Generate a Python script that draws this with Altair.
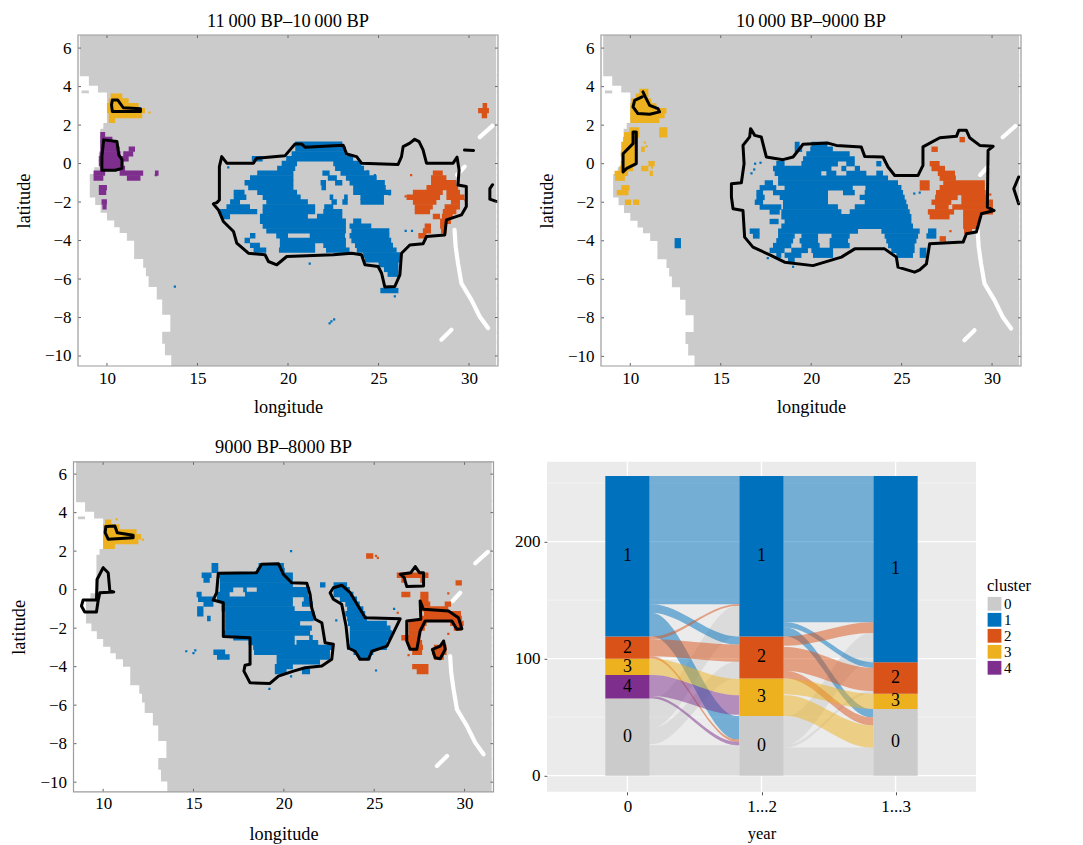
import altair as alt
import pandas as pd

FONT = "Liberation Serif"
COLORS = {"0": "#CBCBCB", "1": "#0072BD", "2": "#D95319", "3": "#EDB120", "4": "#7E2F8E"}
C_DOMAIN = list(COLORS)
C_RANGE = list(COLORS.values())

# ---- shared land mask: (lat top, lat bottom, coast longitude)
COAST = [(6.62,4.6,8.5),(4.6,4.1,9.0),(4.1,3.75,9.5),(3.75,2.05,10.0),(2.05,1.75,9.8),(1.75,0.5,9.63),
 (0.5,-0.25,9.55),(-0.25,-0.6,9.3),(-0.6,-1.7,9.05),(-1.7,-2.1,9.35),(-2.1,-2.5,9.65),(-2.5,-2.9,10.0),
 (-2.9,-3.25,10.4),(-3.25,-3.55,10.7),(-3.55,-3.95,11.1),(-3.95,-4.9,11.5),(-4.9,-5.35,12.0),(-5.35,-5.8,12.15),
 (-5.8,-6.35,12.3),(-6.35,-7.0,12.75),(-7.0,-7.8,13.05),(-7.8,-8.8,13.5),(-8.8,-9.3,13.05),(-9.3,-9.9,13.2),(-9.9,-10.46,13.55)]
EAST_EDGE = 31.5
ISLET = (3.8, 3.65, 8.6, 9.0)
LAKES = [
 [(29.2,-3.45),(29.26,-4.31),(29.39,-5.18),(29.58,-6.22),(30.13,-7.08),(30.59,-7.95),(31.05,-8.55)],
 [(30.59,1.37),(31.29,1.96)],
 [(29.34,-0.59),(29.76,-0.16)],
 [(28.47,-9.16),(29.03,-8.64)],
]

# ---- panel 1 raster runs: lat, lon1, lon2, lon1, lon2 ...
P1_BLUE = [(1.0,20.4,23.0),(0.75,20.4,23.2),(0.5,20.2,23.2),(0.25,18.0,18.6,19.9,23.6),(0,19.65,20.5,22.5,24.05),
 (-0.25,19.4,20.4,22.6,24.2),(-0.5,18.3,20.3,21.9,22.3,22.9,24.5),(-0.75,17.9,20.3,22.2,22.7,23.2,24.9),(-1,17.6,20.3,21.8,22.1,22.6,23,23.4,25.35),
 (-1.25,17.8,20.3,21.85,22.1,23.6,25.4),(-1.5,17,17.6,18.3,20.5,23.6,25.7),(-1.75,17,17.7,18.6,20.7,22.3,22.5,23.1,23.3,24,25.3),
 (-2,16.8,17.35,18.8,21.1,22.4,22.7,23,23.3,24,25.3),(-2.25,16.6,17.9,18.6,21.5,22,22.5),(-2.5,16.25,18.3,18.6,21.5,21.95,23),
 (-2.75,16.3,16.8,18.45,21.1,21.6,23),(-3,18.45,23.2,23.6,24.05),(-3.25,18.6,23.2,23.4,24.6),(-3.5,18.8,23.2,23.5,25.6),
 (-3.75,17.9,18.2,19.35,20,21.2,23.15,23.4,25.6),(-4,17.6,17.9,19.55,23.2,23.5,25.7),(-4.25,17.9,18.45,19.55,21.5,21.95,23.2,23.7,25.8),
 (-4.5,18.1,18.8,19.5,21.5,22.1,23.4,23.8,26),(-4.75,24.15,26.2),(-5,24.25,26.2),(-5.25,25,26.1),(-5.5,25.3,26.1),(-5.75,25.5,26.1),
 (-6.6,25.1,26.1)]
P1_ORANGE = [(2.75,30.5,31.1),(3,30.75,31.0),(2.5,30.7,31.0),(-0.5,28,28.55),(-0.75,27.9,28.75),(-1,27.9,29.3),(-1.25,27.65,29.4),
 (-1.5,26.9,28.55,28.75,29.5),(-1.75,26.55,28.4,28.75,29.75),(-2,26.9,28.2,29,29.5),(-2.25,27,28,28.65,29.5),
 (-2.5,27,27.85,28.55,29.3),(-2.75,28,28.4,28.5,29.1),(-3,28.4,29),(-3.25,27.55,27.9,28.4,28.75),(-3.5,27.45,27.9,28.45,28.75),(-3.75,27.2,27.65)]
P1_YELLOW = [(3.5,10.2,10.85),(3.25,10.1,11.2),(3,10,11.75),(2.75,10,12.1),(2.5,10.1,11.95),(2.25,10.1,10.45)]
P1_PURPLE = [(1.5,9.63,9.9),(1.25,9.63,10.3),(1,9.63,10.55),(0.75,9.63,10.7,11.2,11.55),(0.5,9.6,10.75,10.9,11.45),(0.25,9.55,11.2),
 (0,9.55,10.9),(-0.25,9.63,11),(-0.5,9.26,9.9,10.7,12,12.65,12.85),(-0.75,9.26,9.8,11.1,11.85),(-1.25,9.55,10),(-1.5,9.55,9.96),(-2,9.7,10),(-2.25,9.75,9.98)]
P1_OUTLINES = [
 [(10.3,3.3),(10.6,3.3),(10.9,2.9),(11.85,2.85),(11.85,2.7),(10.3,2.7),(10.25,3.05),(10.3,3.3)],
 [(9.82,1.23),(10.55,1.15),(10.65,0.45),(10.83,0.2),(10.83,-0.25),(10.46,-0.35),(9.72,-0.35),(9.72,0.37),(9.82,1.23)],
 [(15.88,-2.1),(16.07,-2.03),(16.21,-1.89),(16.21,-0.16),(16.34,0.36),(16.62,0.02),(18.09,0.02),(18.27,0.28),(19.83,0.4),(20.11,0.71),
  (20.39,1.02),(20.75,1.02),(20.94,0.85),(23.05,0.95),(23.24,0.5),(23.79,0.36),(24.06,0.02),(26.08,-0.05),(26.27,0.36),(26.36,0.88),
  (26.73,1.06),(27,1.26),(27.24,1.14),(27.46,0.71),(27.65,0.02),(29.12,0.02),(29.34,0.33),(29.45,-0.33),(29.39,-1.11),(29.85,-1.19),
  (29.85,-2.23),(29.58,-2.67),(28.75,-2.93),(28.66,-3.71),(27.65,-3.79),(27.46,-4.17),(26.73,-4.23),(26.27,-4.66),(26.18,-5.78),(25.9,-6.39),
  (25.35,-6.42),(25.17,-5.7),(24.98,-5.35),(24.25,-5.26),(24.06,-4.74),(23.51,-4.66),(22.5,-4.74),(19.93,-4.83),(19.38,-5.26),(18.92,-5.09),
  (18.73,-4.74),(17.81,-4.66),(17.17,-4.14),(16.99,-3.53),(16.43,-3.01),(16.16,-2.41),(15.88,-2.1)],
 [(29.75,0.7),(30.25,0.68)],
 [(31.3,-1.1),(31.15,-1.3),(31.15,-1.85),(31.5,-1.97)],
]
P1_SPECK = {"1": [(13.75,-6.4),(22.4,-8.2),(22.55,-8.1),(22.3,-8.3),(25.9,-6.9),(21.2,-5.2),(16.7,-0.2),(18.6,-2.8),(25.6,-1.6),(25.9,-4.5),(26.5,-3.5),(26.85,-3.5),(24.8,-0.6),(24.4,-0.4)],
            "2": [(26.8,-0.6),(29.8,-1.9),(26.5,-1.7)], "4": [(12.7,-0.6)], "3": [(12.35,2.65)]}

# ---- panel 2
P2_BLUE = [(1,19.09,19.36,20.01,20.9),(0.75,19.09,19.5,19.95,21.2),(0.5,19.73,22.13),(0.25,19.55,22.41),(0,18.07,18.53,19.46,21.48,21.94,22.41,23.6,23.88),
 (-0.25,17.89,21.12,21.67,21.94,22.41,22.7),(-0.5,17.98,20.56,20.84,21.39,21.94,23.05,23.6,23.97),(-0.75,18.17,24.25),(-1,17.43,17.89,18.17,24.8),
 (-1.25,17.15,18.07,18.53,22.3,23,24.99),(-1.5,16.97,17.34,17.89,20.93,21.76,22.41,22.96,25.08),(-1.75,16.97,17.43,18.26,20.93,22.68,25.17),
 (-2,16.88,17.34,18.44,20.93,22.96,25.26),(-2.25,17.15,18.35,18.44,21.48,22.41,25.35),(-2.5,17.7,18.26,18.35,21.67,22.13,25.45),(-2.75,18.35,25.54),
 (-3,17.7,18.2,18.53,25.54),(-3.25,18.35,25.63),(-3.5,16.6,17.15,18.17,22.59,23.88,26,26.46,26.92),(-3.75,16.78,17.15,18.17,19.09,19.46,20.38,21.12,22.13,24.06,25.91,26.37,26.92),
 (-4,12.45,12.8,18.07,19,19.36,20.38,21.02,22.04,24.15,25.82),(-4.25,12.45,12.8,17.89,18.9,19.46,20.47,21.02,22.13,24.25,25.72),
 (-4.5,17.7,18.53,18.9,19.82,20.01,21.21,24.43,25.72,26,26.37),(-4.75,18.07,18.35,18.53,19.46,20.1,21.21,24.71,25.63,26,26.37),(-5,18.72,19.09)]
P2_ORANGE = [(1.25,28.2,28.5),(0.75,26.65,27),(0,26.55,27.1),(-0.25,26.65,27.4),(-0.5,27,27.95),(-0.75,27.1,28),(-1,26,26.55,27.3,29.6),(-1.25,26,26.55,27.1,29.6),
 (-1.5,26.9,29.65),(-1.75,26.85,28.1,28.3,29.7),(-2,26.65,27.75,28.3,30.05),(-2.25,26.85,27.6,27.8,30.05),(-2.5,26.45,27.9,28.4,30.05),(-2.75,26.55,27.65,28.4,29.3),
 (-3,28.4,29.3),(-3.25,28.4,29.2),(-3.5,28.45,28.9),(-3.9,27.1,27.45)]
P2_YELLOW = [(3.75,10.5,11),(3.5,10.3,11),(3.25,10.05,11.15),(3,10,11.45),(2.75,10,12),(2.5,10,11.9),(2.25,10,11.6),(1.75,9.95,10.5,11.6,12.05),(1.5,9.65,10.5,11.6,12.05),
 (1.25,9.6,10.4),(1,9.5,10.4),(0.75,9.5,10.3,10.6,10.8),(0.5,9.47,10.3),(0.25,9.5,10.3),(0,9.47,10.3,11,11.35),(-0.25,9.4,10.15,10.6,11),(-0.5,9.13,9.87,11.07,11.25),(-0.75,9.16,9.7),
 (-1.25,9.5,9.96),(-1.5,9.25,9.9),(-2,9.7,10.05,10.15,10.5)]
P2_OUTLINES = [
 [(10.7,3.73),(10.83,3.47),(11.07,3.03),(11.53,2.86),(11.62,2.69),(11.07,2.57),(10.42,2.6),(10.15,2.95),(10.24,3.29),(10.65,3.47)],
 [(10.15,1.65),(10.33,1.65),(10.33,0),(9.78,-0.26),(9.6,-0.43),(9.6,0.52),(10.15,1.04),(10.15,1.65)],
 [(15.59,-1.04),(16.14,-0.99),(16.29,0),(16.23,0.95),(16.6,1.39),(16.65,1.82),(16.88,1.47),(17.24,1.39),(17.52,0.35),(18.44,0.21),(19,0.35),(19.55,1.01),(20.93,1.07),
  (21.39,0.95),(22.77,0.87),(22.96,0.38),(23.97,0.35),(24.25,-0.17),(24.62,-0.61),(25.91,-0.61),(26.18,-0.09),(26.18,0.87),(27.11,1.35),(28.03,1.42),(28.16,1.73),
  (28.58,1.73),(28.76,1.35),(29.32,0.95),(30.06,0.9),(29.78,0.69),(29.74,-2.25),(30.11,-2.43),(29.41,-2.6),(29.13,-3.55),(28.58,-3.64),(28.4,-4.07),(26.55,-4.16),
  (26.37,-5.2),(26,-5.51),(25.72,-5.63),(24.8,-5.37),(24.71,-4.85),(24.06,-4.42),(22.41,-4.42),(21.67,-4.85),(20.1,-5.29),(18.53,-5.11),(17.8,-4.77),(16.78,-4.33),
  (16.32,-3.81),(16.23,-2.43),(15.68,-2.34),(15.59,-1.73),(15.59,-1.04)],
 [(31.47,-0.69),(31.2,-1.3),(31.47,-2.08)],
]
P2_SPECK = {"1": [(16.85,-0.3),(16.7,-0.5),(16.9,0),(17.2,0.05),(26,-1.5),(25.7,-1.55),(19,-5.35),(17.6,-4.9),(25.4,-3.3)], "2": [(29.9,-1.6),(27.4,-4.1),(27.7,-3.5)], "3": [(10.8,1.1),(10.9,0.9),(11.2,-0.2)]}

# ---- panel 3
P3_BLUE = [(1.25,16,16.37,18.6,20),(1,16,16.37,18.5,20.05),(0.75,15.45,16,16.37,20.5),(0.5,15.55,15.9,16.46,20.5),(0.25,16.46,20.5,22,22.3,22.75,23.5),
 (0,16.46,17.2,17.75,17.95,18.5,21.45,22.75,23.65),(-0.25,15.17,15.45,16.3,17,17.85,21.35,22.75,23.85),(-0.5,15.25,16.1,16.3,20.5,21.1,21.45,23.1,24.05),
 (-0.75,15.55,16.1,16.55,20.5,21,21.6,23.4,24.2),(-1,15.2,15.55,16.55,20.6,23.5,24.4),(-1.25,15.2,15.55,16.75,21.7,23.4,24.5),(-1.5,15.75,15.95,16.75,21.65,23.5,24.6),
 (-1.75,16.75,20.9,23.55,25.7),(-2,16.75,21.55,23.65,25.9),(-2.25,16.65,21.45,23.65,26),(-2.5,17.2,20.6,21.4,21.6,23.65,25.9),(-2.75,18.05,20.6,20.7,21.9,23.65,25.7),
 (-3,18.3,22.75,23.5,25.7),(-3.25,16.1,16.75,18.35,22.55,23.85,24.95),(-3.5,16.3,17,19.6,22.55,24.1,24.8),(-3.75,19.6,22),(-4,19.5,20.5),(-4.25,19.5,20.15,21,21.45)]
P3_ORANGE = [(1.75,24.55,24.95),(0.75,26.25,28),(0.5,26.5,26.7,27.55,27.75),(0.35,29.5,29.85),(-0.25,26.5,27,27.55,28),(-0.5,27.55,28),(-0.75,27.55,28.1,28.9,29.25),
 (-1,27.65,29.1),(-1.25,27.75,29.8),(-1.5,27.55,29.85),(-1.75,26.9,27.9,29.2,29.95),(-2,26.9,27.8,29.4,29.85),(-2.25,26.9,27.6),(-2.5,26.5,27.55),(-2.75,26.8,27.65),
 (-3,26.9,27.7,28.3,29),(-3.25,27.1,27.65,28.2,29),(-3.5,28.3,28.85),(-4,27.1,28),(-4.25,27.35,28)]
P3_YELLOW = [(3.5,10.1,10.45),(3.25,10,10.9),(3,10,11.85),(2.75,10,12.1),(2.5,10,11.95),(2.25,10,10.65)]
P3_OUTLINES = [
 [(10.15,3.28),(10.65,3.31),(10.78,2.96),(11.66,2.82),(11.66,2.7),(10.28,2.62),(10.11,2.96),(10.15,3.28)],
 [(10,1.14),(10.28,0.88),(10.37,-0.07),(10.59,-0.12),(9.82,-0.16),(9.72,-0.59),(9.63,-1.16),(8.98,-1.16),(8.8,-0.85),(8.89,-0.54),(9.63,-0.54),(9.67,0.54),(10,1.14)],
 [(16.09,-0.54),(16.28,-0.16),(16.37,0.85),(18.49,0.88),(18.77,1.32),(19.7,1.35),(19.97,0.8),(20.43,0.36),(21.27,0.33),(21.45,-0.24),(21.54,-0.94),(21.73,-1.54),(22.1,-1.72),
  (22.28,-2.76),(22.74,-2.84),(22.65,-3.62),(22.1,-3.97),(21.17,-4.06),(20.53,-4.23),(19.7,-4.49),(19.23,-4.87),(18.13,-4.84),(17.79,-4.23),(17.85,-3.93),(18.13,-3.88),
  (18.13,-2.5),(16.65,-2.44),(16.65,-0.68),(16.09,-0.54)],
 [(22.56,-0.16),(22.74,0.1),(23.2,0.23),(23.67,-0.16),(24.5,-1.46),(26.44,-1.51),(25.7,-2.93),(24.87,-3.2),(24.68,-3.62),(24.22,-3.62),(23.94,-3.2),(23.57,-3.03),(23.44,-1.89),(23.2,-0.76),(22.74,-0.5),(22.56,-0.16)],
 [(26.44,0.8),(27.03,0.88),(27.27,1.2),(27.5,0.88),(27.73,0.88),(27.73,0.19),(26.8,0.16),(26.66,0.62),(26.44,0.8)],
 [(27.54,-0.59),(27.72,-1.02),(29.11,-1.11),(29.66,-1.46),(29.85,-2.03),(29.57,-2.06),(29.3,-1.63),(27.82,-1.63),(27.54,-2.15),(27.36,-3.1),(26.99,-3.1),(26.8,-2.67),(26.8,-1.63),(27.58,-1.54),(27.54,-0.59)],
 [(28.84,-2.67),(28.93,-3.1),(28.65,-3.59),(28.37,-3.54),(28.22,-3.1),(28.65,-2.93),(28.84,-2.67)],
]
P3_SPECK = {"1": [(14.6,-3.2),(15.1,-3.15),(15,-3.3),(20.4,2),(25.1,-4.2),(19.2,-5.15),(22.7,-3.3),(22.9,-1.6),(26.1,-1),(20.4,-4.5)], "2": [(25.1,1.75),(25.2,1.65),(29.1,-0.2),(26.9,-3.4),(29.1,-2.3),(26.3,-1.2)], "3": [(10.75,3.65),(12.2,2.6)]}

# ---- alluvial
STRATA = [(0,"0",0,66),(0,"4",66,86),(0,"3",86,100),(0,"2",100,119),(0,"1",119,256),
          (1,"0",0,51),(1,"3",51,83),(1,"2",83,119),(1,"1",119,256),
          (2,"0",0,57),(2,"3",57,70),(2,"2",70,97),(2,"1",97,256)]
# stage, from-cluster, left lo, left hi, right lo, right hi
FLOWS = [(0,"0",0,26,0,26),(0,"0",41,66,119,145),(0,"0",27,41,83,97.4),
         (0,"1",146.4,256,146.4,256),(0,"1",139,146.4,112,119),(0,"1",119,139,31,51),
         (0,"2",116.5,119,145,146.4),(0,"2",102,116.5,97.4,112),(0,"2",100,102,29,31),
         (0,"3",86,100,68.7,82.8),
         (0,"4",68,86,52,68.7),(0,"4",66,68,26,29),
         (1,"0",0,24,0,24),(1,"0",26.5,51,97,122),(1,"0",24,26.5,70,72.4),
         (1,"1",131,256,131,256),(1,"1",126.5,131,92.3,97),(1,"1",119,126.5,50,57),
         (1,"2",111,119,122,131),(1,"2",89.5,110,72.4,92.3),(1,"2",83,89.5,43,50),
         (1,"3",69.5,83,57,70),(1,"3",51,68.7,24,43)]
HALF_BAR = 0.165
Y_TICKS = [0, 100, 200]
Y_MINOR = [50, 150, 250]

LABEL = dict(labelFont=FONT, titleFont=FONT, labelFontSize=17, labelColor="#000", titleColor="#000",
             titleFontWeight="normal", grid=False, domain=False)


def runs_frame(rows_by_cluster):
    out = []
    for cluster, rows in rows_by_cluster.items():
        for row in rows:
            lat, vals = row[0], row[1:]
            for i in range(0, len(vals), 2):
                out.append(dict(hex=COLORS[cluster], lon1=vals[i], lon2=vals[i+1], top=lat+0.14, bot=lat-0.14))
    return pd.DataFrame(out)


def lines_frame(lines):
    return pd.DataFrame([dict(k=k, i=i, lon=p[0], lat=p[1]) for k, line in enumerate(lines) for i, p in enumerate(line)])


def map_panel(title, runs, specks, outlines, xdom, ydom, w, h, inset=0, title_pad=12):
    xs = alt.Scale(domain=xdom, range=[inset, inset + w], nice=False, zero=False)
    ys = alt.Scale(domain=ydom, nice=False, zero=False)
    xa = alt.Axis(values=[10,15,20,25,30], tickSize=0, labelPadding=4, titlePadding=title_pad, titleFontSize=18.3, **LABEL)
    ya = alt.Axis(values=[-10,-8,-6,-4,-2,0,2,4,6], tickSize=0, labelPadding=7 - inset, titlePadding=11, titleFontSize=18.3, **LABEL)
    X = lambda f: alt.X(f, scale=xs, title="longitude", axis=xa)
    Y = lambda f: alt.Y(f, scale=ys, title="latitude", axis=ya)
    land = pd.DataFrame([dict(lon1=c, lon2=EAST_EDGE, top=t+0.06, bot=b-0.06) for t, b, c in COAST] +
                        [dict(lon1=ISLET[2], lon2=ISLET[3], top=ISLET[0], bot=ISLET[1])])
    base = alt.Chart(land).mark_rect(color=COLORS["0"], clip=True).encode(x=X("lon1:Q"), x2="lon2:Q", y=Y("top:Q"), y2="bot:Q")
    lakes = alt.Chart(lines_frame(LAKES)).mark_line(color="white", strokeWidth=4.2, strokeCap="round", clip=True).encode(
        x=X("lon:Q"), y=Y("lat:Q"), detail="k:N", order="i:Q")
    cells = alt.Chart(runs_frame(runs)).mark_rect(clip=True).encode(
        x=X("lon1:Q"), x2="lon2:Q", y=Y("top:Q"), y2="bot:Q",
        color=alt.Color("hex:N", scale=None))
    sp = pd.DataFrame([dict(hex=COLORS[c], lon=p[0], lat=p[1]) for c, pts in specks.items() for p in pts])
    speck = alt.Chart(sp).mark_square(size=5, opacity=1, clip=True).encode(
        x=X("lon:Q"), y=Y("lat:Q"), color=alt.Color("hex:N", scale=None))
    line = alt.Chart(lines_frame(outlines)).mark_line(color="black", strokeWidth=3, strokeJoin="round", strokeCap="round", clip=True).encode(
        x=X("lon:Q"), y=Y("lat:Q"), detail="k:N", order="i:Q")
    vt = pd.DataFrame({"v": [10,15,20,25,30]})
    ht = pd.DataFrame({"v": [-10,-8,-6,-4,-2,0,2,4,6]})
    tick = dict(color="#666", strokeWidth=1)
    frame = alt.Chart(vt.head(1)).mark_rect(fillOpacity=0, stroke="#9c9c9c", strokeWidth=1.2).encode(
        x=alt.value(inset), x2=alt.value(inset + w), y=alt.value(0), y2=alt.value(h))
    layers = [base, lakes, cells, speck, line,
        alt.Chart(vt).mark_rule(**tick).encode(x=X("v:Q"), y=alt.value(0), y2=alt.value(3)),
        alt.Chart(vt).mark_rule(**tick).encode(x=X("v:Q"), y=alt.value(h), y2=alt.value(h-3)),
        alt.Chart(ht).mark_rule(**tick).encode(y=Y("v:Q"), x=alt.value(inset), x2=alt.value(inset+3)),
        alt.Chart(ht).mark_rule(**tick).encode(y=Y("v:Q"), x=alt.value(inset+w), x2=alt.value(inset+w-3)),
        frame,
    ]
    return alt.layer(*layers).properties(
        width=w + inset, height=h,
        title=alt.TitleParams(title, font=FONT, fontSize=18.4, fontWeight="normal", color="#000", offset=4.5,
                              anchor="middle", dx=inset / 2),
        view=alt.ViewConfig(stroke=None, fill="white"))


def alluvial(w, h):
    xs = alt.Scale(domain=[-0.6, 2.6], nice=False, zero=False)
    ys = alt.Scale(domain=[-13.8, 268.2], nice=False, zero=False)
    cs = alt.Scale(domain=C_DOMAIN, range=C_RANGE)
    legend = alt.Legend(
        title="cluster", orient="none", legendX=w+11, legendY=116, titleFont=FONT, titleFontSize=16.5, titleFontWeight="normal",
        titleColor="#000", labelFont=FONT, labelFontSize=15, labelColor="#000", symbolType="square", symbolSize=190,
        symbolStrokeWidth=0, symbolOpacity=1, rowPadding=0, labelOffset=2, titlePadding=2)
    xa = alt.Axis(values=[0,1,2], tickSize=3, tickColor="#555", labelPadding=4, titlePadding=11, titleFontSize=16.5,
                  labelExpr="datum.value==0?'0':datum.value==1?'1...2':'1...3'", **LABEL)
    ya = alt.Axis(values=Y_TICKS, tickSize=3, tickColor="#555", labelPadding=4, **LABEL)
    X = lambda f: alt.X(f, scale=xs, title="year", axis=xa)
    Y = lambda f: alt.Y(f, scale=ys, title=None, axis=ya)
    minor = alt.Chart(pd.DataFrame({"v": Y_MINOR})).mark_rule(color="#F3F3F3", strokeWidth=1).encode(y=Y("v:Q"))
    major = alt.Chart(pd.DataFrame({"v": Y_TICKS})).mark_rule(color="white", strokeWidth=1.4).encode(y=Y("v:Q"))
    vgrid = alt.Chart(pd.DataFrame({"v": [0, 1, 2]})).mark_rule(color="white", strokeWidth=1.4).encode(x=X("v:Q"))
    rows = []
    for k, (s, c, a, b, d, e) in enumerate(FLOWS):
        x0, x1 = s + HALF_BAR, s + 1 - HALF_BAR
        for x, lo, hi in [(x0, a, b), (x0 + 0.02, a, b), (x1 - 0.02, d, e), (x1, d, e)]:
            rows.append(dict(k=k, cluster=c, x=x, lo=lo, hi=hi))
    flows = alt.Chart(pd.DataFrame(rows)).mark_area(interpolate="monotone", opacity=0.5).encode(
        x=X("x:Q"), y=Y("lo:Q"), y2="hi:Q",
        color=alt.Color("cluster:N", scale=cs, legend=legend), detail="k:N")
    st = pd.DataFrame([dict(x1=s-HALF_BAR, x2=s+HALF_BAR, lo=a, hi=b, mid=(a+b)/2, xm=s, cluster=c) for s, c, a, b in STRATA])
    bars = alt.Chart(st).mark_rect().encode(
        x=X("x1:Q"), x2="x2:Q", y=Y("lo:Q"), y2="hi:Q",
        color=alt.Color("cluster:N", scale=cs, legend=legend))
    text = alt.Chart(st).mark_text(font=FONT, fontSize=18, color="black").encode(
        x=X("xm:Q"), y=Y("mid:Q"), text="cluster:N")
    return alt.layer(minor, major, vgrid, flows, bars, text).properties(
        width=w, height=h, title=alt.TitleParams(" ", font=FONT, fontSize=18.4, offset=4.5),
        view=alt.ViewConfig(fill="#EBEBEB", stroke=None))


p1 = map_panel("11\u2009000 BP\u201310\u2009000 BP", {"1": P1_BLUE, "2": P1_ORANGE, "3": P1_YELLOW, "4": P1_PURPLE}, P1_SPECK, P1_OUTLINES,
               [8.4, 31.6], [-10.52, 6.68], 420, 331, inset=4.5)
p2 = map_panel("10\u2009000 BP\u20139000 BP", {"1": P2_BLUE, "2": P2_ORANGE, "3": P2_YELLOW}, P2_SPECK, P2_OUTLINES,
               [8.38, 31.6], [-10.5, 6.68], 420, 331)
p3 = map_panel("9000 BP\u20138000 BP", {"1": P3_BLUE, "2": P3_ORANGE, "3": P3_YELLOW}, P3_SPECK, P3_OUTLINES,
               [8.36, 31.6], [-10.5, 6.64], 420, 330, title_pad=14)
p4 = alluvial(429, 330)

row1 = alt.hconcat(p1, p2, spacing=37.5).resolve_scale(color="independent")
row2 = alt.hconcat(p3, p4, spacing=19.5).resolve_scale(color="independent")
chart = alt.vconcat(row1, row2, spacing=21.8).resolve_scale(color="independent").properties(
    padding={"left": 1.5, "top": 3, "right": 0, "bottom": 0}, background="white")
chart.save("out.html", embed_options={"renderer": "svg", "actions": False})
